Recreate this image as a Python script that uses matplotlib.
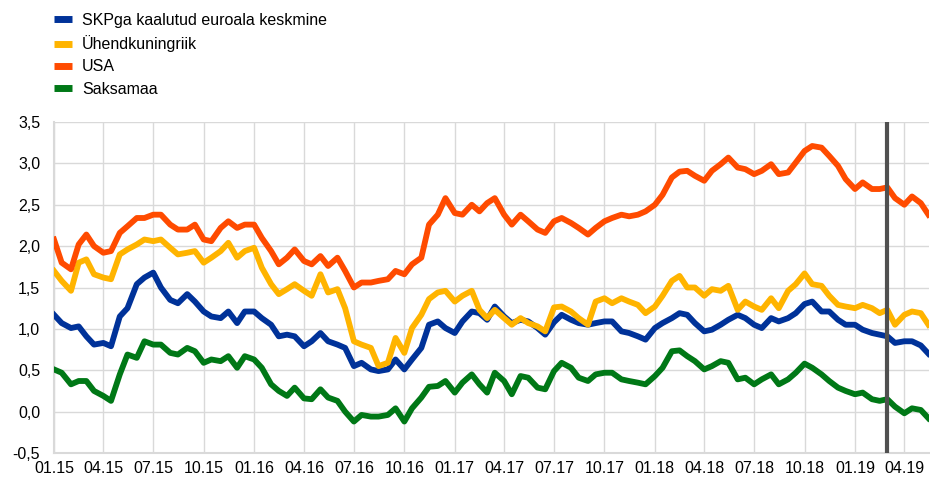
import matplotlib.pyplot as plt
import matplotlib.dates as mdates
from matplotlib.lines import Line2D
from matplotlib.ticker import FuncFormatter
import pandas as pd

# semi-monthly readings, 1st and 15th of each month, Jan 2015 - May 2019
dates = pd.date_range('2015-01-01', periods=106, freq='SMS')

euro = [1.17, 1.07, 1.01, 1.03, 0.91, 0.81, 0.83, 0.79, 1.15, 1.25, 1.54, 1.62, 1.68, 1.50, 1.35, 1.31,
        1.42, 1.33, 1.21, 1.15, 1.13, 1.21, 1.07, 1.21, 1.21, 1.13, 1.05, 0.91, 0.93, 0.91, 0.79,
        0.85, 0.95, 0.85, 0.81, 0.77, 0.55, 0.59, 0.51, 0.49, 0.51, 0.63, 0.51, 0.63, 0.77, 1.05,
        1.09, 1.01, 0.95, 1.09, 1.21, 1.19, 1.11, 1.27, 1.15, 1.07, 1.11, 1.09, 1.01, 0.93, 1.08,
        1.17, 1.11, 1.07, 1.05, 1.07, 1.09, 1.09, 0.97, 0.95, 0.91, 0.87, 1.01, 1.07, 1.13, 1.19,
        1.17, 1.07, 0.97, 0.99, 1.05, 1.11, 1.17, 1.13, 1.05, 1.01, 1.13, 1.09, 1.13, 1.19, 1.30,
        1.33, 1.21, 1.21, 1.11, 1.05, 1.05, 0.99, 0.95, 0.93, 0.91, 0.83, 0.85, 0.85, 0.80, 0.70]

uk = [1.70, 1.58, 1.46, 1.80, 1.84, 1.66, 1.62, 1.60, 1.90, 1.96, 2.02, 2.08, 2.06, 2.08, 1.98, 1.90,
      1.92, 1.94, 1.80, 1.86, 1.94, 2.04, 1.86, 1.94, 1.98, 1.74, 1.54, 1.42, 1.48, 1.54, 1.46,
      1.40, 1.66, 1.44, 1.48, 1.25, 0.85, 0.81, 0.77, 0.55, 0.59, 0.89, 0.71, 1.01, 1.17, 1.36,
      1.44, 1.46, 1.33, 1.40, 1.46, 1.23, 1.13, 1.23, 1.13, 1.05, 1.13, 1.07, 1.03, 0.97, 1.26,
      1.27, 1.21, 1.13, 1.05, 1.33, 1.37, 1.31, 1.37, 1.33, 1.29, 1.19, 1.27, 1.40, 1.58, 1.64,
      1.50, 1.50, 1.40, 1.48, 1.46, 1.52, 1.23, 1.33, 1.27, 1.23, 1.37, 1.25, 1.46, 1.54, 1.67,
      1.54, 1.52, 1.40, 1.29, 1.27, 1.25, 1.29, 1.25, 1.19, 1.23, 1.05, 1.17, 1.21, 1.19, 1.05]

usa = [2.08, 1.80, 1.72, 2.02, 2.14, 2.00, 1.92, 1.94, 2.16, 2.24, 2.34, 2.34, 2.38, 2.38, 2.26, 2.20,
       2.20, 2.26, 2.08, 2.06, 2.22, 2.30, 2.22, 2.26, 2.26, 2.10, 1.94, 1.78, 1.86, 1.96, 1.82,
       1.78, 1.88, 1.76, 1.86, 1.70, 1.50, 1.56, 1.56, 1.58, 1.60, 1.70, 1.66, 1.78, 1.86, 2.26,
       2.38, 2.58, 2.40, 2.38, 2.50, 2.42, 2.52, 2.58, 2.38, 2.26, 2.38, 2.30, 2.20, 2.16, 2.30,
       2.34, 2.28, 2.22, 2.14, 2.22, 2.30, 2.34, 2.38, 2.36, 2.38, 2.42, 2.50, 2.62, 2.83, 2.90,
       2.91, 2.85, 2.79, 2.91, 2.99, 3.07, 2.95, 2.93, 2.87, 2.91, 2.99, 2.87, 2.89, 3.01, 3.15,
       3.21, 3.19, 3.09, 2.97, 2.81, 2.69, 2.77, 2.69, 2.69, 2.71, 2.58, 2.50, 2.60, 2.52, 2.38]

de = [0.51, 0.47, 0.33, 0.37, 0.37, 0.25, 0.19, 0.13, 0.45, 0.69, 0.65, 0.85, 0.81, 0.81, 0.71, 0.69,
      0.77, 0.73, 0.59, 0.63, 0.61, 0.67, 0.53, 0.67, 0.63, 0.53, 0.33, 0.25, 0.19, 0.29, 0.16,
      0.15, 0.27, 0.17, 0.13, 0.00, -0.12, -0.04, -0.06, -0.06, -0.04, 0.04, -0.12, 0.04, 0.17, 0.30,
      0.31, 0.37, 0.23, 0.35, 0.45, 0.33, 0.23, 0.47, 0.37, 0.21, 0.43, 0.41, 0.29, 0.27, 0.49,
      0.59, 0.53, 0.41, 0.37, 0.45, 0.47, 0.47, 0.39, 0.37, 0.35, 0.33, 0.43, 0.53, 0.73, 0.74,
      0.67, 0.61, 0.51, 0.55, 0.61, 0.59, 0.39, 0.41, 0.33, 0.39, 0.45, 0.33, 0.39, 0.47, 0.58,
      0.53, 0.45, 0.37, 0.29, 0.25, 0.21, 0.23, 0.15, 0.13, 0.15, 0.06, -0.02, 0.04, 0.02, -0.08]

labels = ['SKPga kaalutud euroala keskmine', 'Ühendkuningriik', 'USA', 'Saksamaa']
colors = ['#003299', '#FFB400', '#FF4B00', '#007816']
marker_date = pd.Timestamp('2019-03-01')

plt.rcParams['font.family'] = ['Liberation Sans', 'DejaVu Sans']
plt.rcParams['font.size'] = 11.5

fig = plt.figure(figsize=(9.3, 4.8), dpi=100)
ax = fig.add_axes([54 / 930, 27 / 480, 875 / 930, 331 / 480])

for series, col in zip([euro, uk, usa, de], colors):
    ax.plot(dates, series, color=col, linewidth=4.2, solid_joinstyle='round', zorder=3)

ax.axvline(marker_date, color='#505050', linewidth=3.0, zorder=4)

ax.set_ylim(-0.5, 3.5)
ax.set_yticks([-0.5, 0, 0.5, 1.0, 1.5, 2.0, 2.5, 3.0, 3.5])
ax.yaxis.set_major_formatter(FuncFormatter(lambda v, p: f'{v:.1f}'.replace('.', ',')))

ax.set_xlim(pd.Timestamp('2015-01-01'), pd.Timestamp('2019-05-16'))
ax.xaxis.set_major_locator(mdates.MonthLocator(bymonth=[1, 4, 7, 10]))
ax.xaxis.set_major_formatter(mdates.DateFormatter('%m.%y'))

ax.grid(True, color='#d9d9d9', linewidth=1.0, zorder=0)
ax.tick_params(length=0, labelsize=11.5)
ax.tick_params(axis='y', pad=10)
ax.tick_params(axis='x', pad=6)
for side in ['top', 'right']:
    ax.spines[side].set_visible(False)
for side in ['left', 'bottom']:
    ax.spines[side].set_color('#d9d9d9')
    ax.spines[side].set_linewidth(1.5)

handles = [Line2D([0], [0], color=c, linewidth=5, solid_capstyle='butt') for c in colors]
fig.legend(handles, labels, loc='upper left', bbox_to_anchor=(54 / 930, 1 - 13 / 480),
           frameon=False, borderpad=0, borderaxespad=0, handlelength=1.1,
           handletextpad=0.65, labelspacing=0.45, fontsize=11.5)

fig.savefig('out.png', dpi=100)
